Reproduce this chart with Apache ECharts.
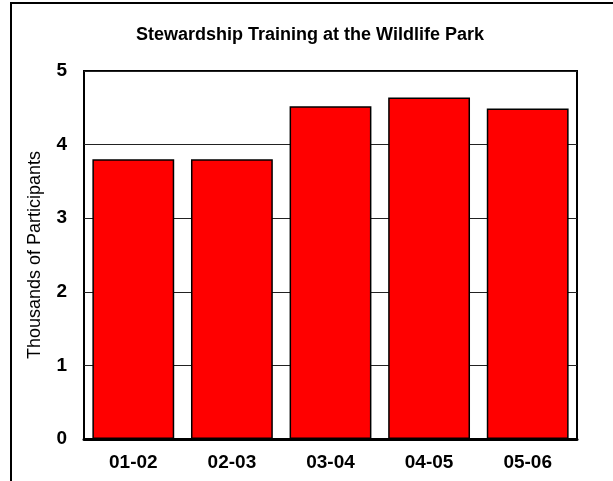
<!DOCTYPE html>
<html>
<head>
<meta charset="utf-8">
<script src="https://cdn.jsdelivr.net/npm/echarts@6/dist/echarts.min.js"></script>
<style>
  html, body { margin: 0; padding: 0; background: #fff; }
  #chart { width: 613px; height: 481px; }
</style>
</head>
<body>
<div id="chart"></div>
<script>
var seasons = ['01-02', '02-03', '03-04', '04-05', '05-06'];
var participants = [3.8, 3.8, 4.52, 4.64, 4.49];
var yTicks = [0, 1, 2, 3, 4, 5];

var myChart = echarts.init(document.getElementById('chart'));
var option = {
    animation: false,
    backgroundColor: '#fff',
    title: {
        text: 'Stewardship Training at the Wildlife Park',
        left: 305,
        top: 21,
        textAlign: 'center',
        textStyle: {
            fontFamily: 'Liberation Sans',
            fontSize: 18,
            fontWeight: 'bold',
            color: '#000'
        }
    },
    graphic: [
        {
            // outer frame (only left and top visible in the picture)
            type: 'rect',
            silent: true,
            z: -1,
            shape: { x: 11, y: 3, width: 700, height: 600 },
            style: { fill: 'none', stroke: '#000', lineWidth: 2 }
        }
    ],
    grid: {
        left: 84,
        right: 36,
        top: 71,
        bottom: 42,
        show: true,
        borderColor: '#000',
        borderWidth: 2,
        backgroundColor: 'transparent'
    },
    xAxis: {
        type: 'category',
        data: seasons,
        axisLine: { show: true, lineStyle: { color: '#000', width: 3 } },
        axisTick: { show: false },
        axisLabel: {
            margin: 14,
            fontFamily: 'Liberation Sans',
            fontSize: 19,
            fontWeight: 'bold',
            color: '#000'
        }
    },
    yAxis: {
        type: 'value',
        min: yTicks[0],
        max: yTicks[yTicks.length - 1],
        interval: 1,
        name: 'Thousands of Participants',
        nameLocation: 'middle',
        nameGap: 40,
        nameTextStyle: {
            fontFamily: 'Liberation Sans',
            fontSize: 18,
            color: '#000'
        },
        axisLine: { show: false },
        axisTick: { show: false },
        axisLabel: {
            margin: 17,
            fontFamily: 'Liberation Sans',
            fontSize: 19,
            fontWeight: 'bold',
            color: '#000'
        },
        splitLine: { show: true, lineStyle: { color: '#222', width: 1 } }
    },
    series: [
        {
            name: 'Participants',
            type: 'bar',
            data: participants,
            barCategoryGap: '17%',
            itemStyle: {
                color: '#ff0000',
                borderColor: '#000',
                borderWidth: 1.5
            }
        }
    ]
};
myChart.setOption(option);
window.onresize = myChart.resize;
</script>
</body>
</html>
